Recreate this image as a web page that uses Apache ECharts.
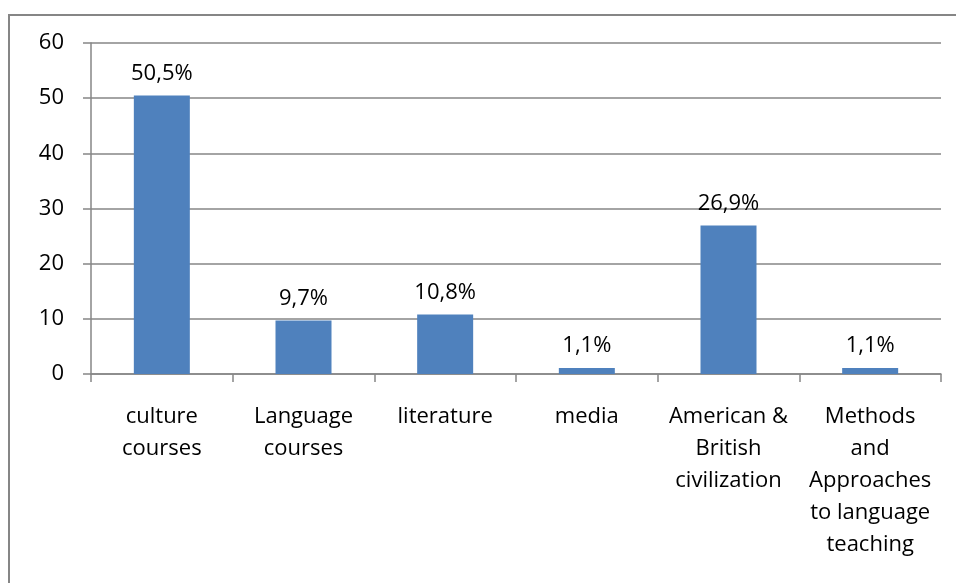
<!DOCTYPE html>
<html>
<head>
<meta charset="utf-8">
<script src="https://cdn.jsdelivr.net/npm/echarts@6/dist/echarts.min.js"></script>
<style>
  html, body { margin: 0; padding: 0; background: #fff; }
  #chart { width: 956px; height: 583px; }
</style>
</head>
<body>
<div id="chart"></div>
<script>
// Course categories (line breaks as they wrap under each bar)
const categories = [
  'culture\ncourses',
  'Language\ncourses',
  'literature',
  'media',
  'American &\nBritish\ncivilization',
  'Methods\nand\nApproaches\nto language\nteaching'
];
// Share of answers per category, in percent
const shares = [50.5, 9.7, 10.8, 1.1, 26.9, 1.1];
// Value axis ticks
const yTicks = [0, 10, 20, 30, 40, 50, 60];

const FONT = '"Open Sans", sans-serif';
const FONT_SIZE = 22;
const GRAY = '#868686';

const chart = echarts.init(document.getElementById('chart'), null, { renderer: 'canvas' });

chart.setOption({
  animation: false,
  backgroundColor: '#ffffff',
  textStyle: { fontFamily: FONT },
  graphic: [{
    type: 'rect',
    silent: true,
    shape: { x: 9, y: 15, width: 970, height: 600 },
    style: { fill: 'none', stroke: GRAY, lineWidth: 2 }
  }],
  grid: { left: 91, right: 15, top: 43, bottom: 209, containLabel: false },
  xAxis: {
    type: 'category',
    data: categories,
    axisLine: { show: true, lineStyle: { color: GRAY, width: 1.5 } },
    axisTick: { show: true, length: 8, alignWithLabel: false, lineStyle: { color: GRAY, width: 1.5 } },
    axisLabel: {
      interval: 0,
      color: '#000',
      fontFamily: FONT,
      fontSize: FONT_SIZE,
      lineHeight: 32,
      margin: 27,
      align: 'center'
    },
    splitLine: { show: false }
  },
  yAxis: {
    type: 'value',
    min: yTicks[0],
    max: yTicks[yTicks.length - 1],
    interval: yTicks[1] - yTicks[0],
    axisLine: { show: true, lineStyle: { color: GRAY, width: 1.5 } },
    axisTick: { show: true, length: 8, lineStyle: { color: GRAY, width: 1.5 } },
    axisLabel: {
      color: '#000',
      fontFamily: FONT,
      fontSize: FONT_SIZE,
      margin: 27
    },
    splitLine: { show: true, lineStyle: { color: GRAY, width: 1.5 } }
  },
  series: [{
    type: 'bar',
    data: shares,
    barWidth: 56,
    itemStyle: { color: '#4F81BD' },
    label: {
      show: true,
      position: 'top',
      distance: 11,
      color: '#000',
      fontFamily: FONT,
      fontSize: FONT_SIZE,
      formatter: p => String(p.value).replace('.', ',') + '%'
    }
  }]
});
</script>
</body>
</html>
